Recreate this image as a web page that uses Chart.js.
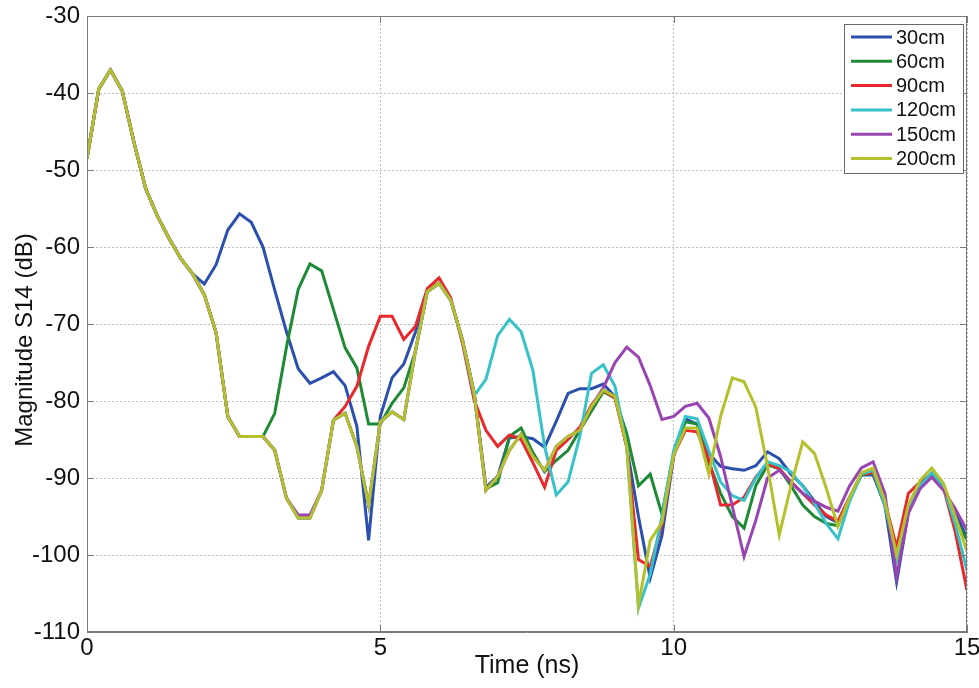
<!DOCTYPE html>
<html>
<head>
<meta charset="utf-8">
<script src="https://cdn.jsdelivr.net/npm/chart.js@4.4.1/dist/chart.umd.min.js"></script>
<style>
  html, body { margin: 0; padding: 0; background: #fff; }
  canvas { display: block; }
</style>
</head>
<body>
<canvas id="grafico" width="979" height="688"></canvas>
<script>
// Time axis (ns), one sample every 0.2 ns
const tiempos = [
  0, 0.2, 0.4, 0.6, 0.8, 1, 1.2, 1.4, 1.6, 1.8,
  2, 2.2, 2.4, 2.6, 2.8, 3, 3.2, 3.4, 3.6, 3.8,
  4, 4.2, 4.4, 4.6, 4.8, 5, 5.2, 5.4, 5.6, 5.8,
  6, 6.2, 6.4, 6.6, 6.8, 7, 7.2, 7.4, 7.6, 7.8,
  8, 8.2, 8.4, 8.6, 8.8, 9, 9.2, 9.4, 9.6, 9.8,
  10, 10.2, 10.4, 10.6, 10.8, 11, 11.2, 11.4, 11.6, 11.8,
  12, 12.2, 12.4, 12.6, 12.8, 13, 13.2, 13.4, 13.6, 13.8,
  14, 14.2, 14.4, 14.6, 14.8, 15
];

const etiquetas = ['30cm', '60cm', '90cm', '120cm', '150cm', '200cm'];
const colores = ['#2b4fad', '#1f8a35', '#e8282b', '#36c2c8', '#9a44b4', '#b4c12c'];

// Magnitude S14 (dB)
const s30 = [
  -48.5, -39.5, -37.0, -39.7, -46.4, -52.4, -56.0, -58.9, -61.5, -63.5,
  -64.8, -62.3, -57.8, -55.7, -56.8, -60.0, -65.6, -71.0, -75.8, -77.7,
  -77.0, -76.2, -78.0, -83.3, -98.1, -82.0, -77.0, -75.2, -71.0, -65.8,
  -64.7, -66.9, -72.1, -79.0, -91.2, -89.8, -84.8, -84.6, -84.9, -86.0,
  -82.6, -79.0, -78.4, -78.4, -77.8, -79.4, -85.9, -95.0, -103.0, -97.5,
  -87.2, -82.3, -83.0, -86.8, -88.5, -88.8, -89.0, -88.4, -86.6, -87.5,
  -89.5, -91.0, -93.0, -95.0, -95.8, -92.5, -89.6, -89.6, -93.5, -103.5,
  -94.5, -91.0, -89.8, -91.3, -94.5, -97.8
];
const s60 = [
  -48.5, -39.5, -37.0, -39.7, -46.4, -52.4, -56.0, -58.9, -61.5, -63.5,
  -66.2, -71.1, -82.0, -84.6, -84.6, -84.6, -81.6, -73.0, -65.5, -62.2,
  -63.1, -68.1, -73.1, -75.7, -83.0, -83.0, -80.3, -78.3, -73.5, -65.8,
  -64.7, -66.9, -72.1, -79.0, -91.4, -90.6, -84.6, -83.5, -86.7, -89.2,
  -87.7, -86.4, -83.8, -81.3, -78.8, -79.6, -84.2, -91.0, -89.5, -94.7,
  -86.8, -82.7, -83.0, -88.0, -92.0, -95.0, -96.5, -91.0, -88.3, -88.8,
  -91.0, -93.5, -95.0, -95.9, -96.2, -92.8, -89.6, -89.4, -93.5, -100.5,
  -93.8, -90.8, -89.6, -91.2, -95.5, -98.0
];
const s90 = [
  -48.5, -39.5, -37.0, -39.7, -46.4, -52.4, -56.0, -58.9, -61.5, -63.5,
  -66.2, -71.1, -82.0, -84.6, -84.6, -84.6, -86.4, -92.6, -95.2, -95.2,
  -91.6, -82.5, -80.7, -78.1, -72.9, -69.0, -69.0, -72.0, -70.3, -65.4,
  -64.0, -66.6, -72.5, -79.9, -83.8, -85.9, -84.4, -85.0, -88.0, -91.2,
  -86.4, -85.0, -83.4, -80.5, -78.6, -79.6, -86.0, -100.6, -101.5, -96.0,
  -87.0, -83.8, -84.0, -87.6, -93.5, -93.5, -92.5, -89.9, -88.1, -88.8,
  -90.5, -92.0, -93.5, -94.8, -95.6, -92.5, -89.5, -89.3, -93.0, -99.0,
  -92.0, -90.5, -89.5, -91.3, -97.0, -104.6
];
const s120 = [
  -48.5, -39.5, -37.0, -39.7, -46.4, -52.4, -56.0, -58.9, -61.5, -63.5,
  -66.2, -71.1, -82.0, -84.6, -84.6, -84.6, -86.4, -92.6, -95.2, -95.2,
  -91.6, -82.5, -81.6, -85.9, -93.5, -82.7, -81.4, -82.4, -73.4, -65.8,
  -64.7, -66.9, -72.1, -79.3, -77.2, -71.5, -69.4, -71.0, -76.0, -85.9,
  -92.2, -90.5, -84.6, -76.4, -75.3, -78.1, -85.9, -106.9, -102.5, -95.0,
  -86.4, -82.0, -82.3, -86.5, -90.5, -92.3, -92.9, -90.0, -87.9, -88.4,
  -89.2, -91.1, -93.3, -95.9, -97.9, -93.0, -89.5, -89.0, -93.5, -100.5,
  -94.0, -91.0, -89.3, -91.2, -96.0, -102.0
];
const s150 = [
  -48.5, -39.5, -37.0, -39.7, -46.4, -52.4, -56.0, -58.9, -61.5, -63.5,
  -66.2, -71.1, -82.0, -84.6, -84.6, -84.6, -86.4, -92.6, -94.8, -94.8,
  -91.6, -82.5, -81.6, -85.9, -93.5, -82.7, -81.4, -82.4, -73.4, -65.8,
  -64.7, -66.9, -72.1, -79.0, -91.6, -89.8, -86.4, -84.3, -87.2, -89.0,
  -85.9, -84.6, -83.8, -80.7, -78.3, -75.0, -73.0, -74.3, -78.0, -82.4,
  -82.0, -80.7, -80.3, -82.2, -87.2, -93.7, -100.2, -95.5, -90.0, -89.0,
  -90.5, -92.0, -93.0, -93.8, -94.3, -91.0, -88.7, -87.9, -92.0, -102.8,
  -94.6, -91.4, -89.9, -91.6, -94.0, -96.8
];
const s200 = [
  -48.5, -39.5, -37.0, -39.7, -46.4, -52.4, -56.0, -58.9, -61.5, -63.5,
  -66.2, -71.1, -82.0, -84.6, -84.6, -84.6, -86.4, -92.6, -95.2, -95.2,
  -91.6, -82.5, -81.6, -85.9, -93.5, -82.7, -81.4, -82.4, -73.4, -65.8,
  -64.7, -66.9, -72.1, -79.0, -91.6, -89.8, -86.4, -84.3, -87.2, -89.0,
  -85.9, -84.6, -83.8, -80.7, -78.6, -79.4, -85.9, -106.5, -98.1, -95.8,
  -87.0, -83.5, -83.5, -89.5, -82.0, -77.0, -77.5, -80.8, -88.5, -97.4,
  -91.0, -85.3, -86.8, -91.3, -96.3, -92.5, -89.3, -88.7, -93.0, -100.0,
  -93.5, -90.3, -88.7, -90.7, -95.0, -99.5
];
const series = [s30, s60, s90, s120, s150, s200];

const ejeX = { min: 0, max: 15, paso: 5 };
const ejeY = { min: -110, max: -30, paso: 10 };
const tituloY = 'Magnitude S14 (dB)';

const fuente = 'Liberation Sans, Arial, Helvetica, sans-serif';

/**
 * Caja del eje estilo MATLAB: marco completo y marcas hacia dentro,
 * y el título del eje Y
 */
const marcoPlugin = {
    id: 'marco',
    afterDraw(chart) {
        const { ctx, chartArea: a, scales } = chart;
        const largo = 7;
        ctx.save();
        ctx.strokeStyle = '#7a7a7a';
        ctx.lineWidth = 1;
        ctx.setLineDash([]);
        ctx.strokeRect(a.left + 0.5, a.top + 0.5, a.right - a.left - 1, a.bottom - a.top - 1);

        ctx.beginPath();
        scales.x.ticks.forEach((t) => {
            const x = Math.round(scales.x.getPixelForValue(t.value)) + 0.5;
            ctx.moveTo(x, a.bottom); ctx.lineTo(x, a.bottom - largo);
            ctx.moveTo(x, a.top); ctx.lineTo(x, a.top + largo);
        });
        scales.y.ticks.forEach((t) => {
            const y = Math.round(scales.y.getPixelForValue(t.value)) + 0.5;
            ctx.moveTo(a.left, y); ctx.lineTo(a.left + largo, y);
            ctx.moveTo(a.right, y); ctx.lineTo(a.right - largo, y);
        });
        ctx.stroke();

        // Título vertical del eje Y
        ctx.translate(25, a.top + (a.bottom - a.top) / 2 + 16);
        ctx.rotate(-Math.PI / 2);
        ctx.font = '24px ' + fuente;
        ctx.fillStyle = '#111';
        ctx.textAlign = 'center';
        ctx.textBaseline = 'middle';
        ctx.fillText(tituloY, 0, 0);
        ctx.restore();
    }
};

/**
 * Leyenda dentro del área del gráfico (esquina superior derecha)
 */
const leyendaPlugin = {
    id: 'leyendaInterna',
    afterDraw(chart) {
        const { ctx, chartArea: a } = chart;
        const ancho = 119, fila = 24.3, alto = 149;
        const x0 = a.right - 4 - ancho;
        const y0 = a.top + 8;
        ctx.save();
        ctx.fillStyle = '#fff';
        ctx.fillRect(x0, y0, ancho, alto);
        ctx.strokeStyle = '#6a6a6a';
        ctx.lineWidth = 1;
        ctx.strokeRect(x0 + 0.5, y0 + 0.5, ancho, alto);
        ctx.font = '20px ' + fuente;
        ctx.textBaseline = 'middle';
        ctx.textAlign = 'left';
        chart.data.datasets.forEach((ds, i) => {
            const y = y0 + 13 + i * fila;
            ctx.strokeStyle = ds.borderColor;
            ctx.lineWidth = 3;
            ctx.beginPath();
            ctx.moveTo(x0 + 7, y);
            ctx.lineTo(x0 + 48, y);
            ctx.stroke();
            ctx.fillStyle = '#111';
            ctx.fillText(ds.label, x0 + 52, y + 1);
        });
        ctx.restore();
    }
};

function inicializarGrafico() {
    const ctx = document.getElementById('grafico');

    const datasets = series.map((valores, i) => ({
        label: etiquetas[i],
        data: valores.map((v, k) => ({ x: tiempos[k], y: v })),
        borderColor: colores[i],
        backgroundColor: colores[i],
        borderWidth: 3,
        pointRadius: 0,
        tension: 0,
        fill: false,
        // MATLAB dibuja la última serie encima
        order: series.length - i
    }));

    new Chart(ctx, {
        type: 'line',
        data: { datasets: datasets },
        options: {
            responsive: false,
            animation: false,
            devicePixelRatio: 1,
            layout: {
                padding: { top: 16, right: 12, left: 0, bottom: 0 }
            },
            plugins: {
                legend: { display: false },
                tooltip: { enabled: false }
            },
            scales: {
                x: {
                    type: 'linear',
                    min: ejeX.min,
                    max: ejeX.max,
                    ticks: {
                        stepSize: ejeX.paso,
                        color: '#111',
                        font: { family: fuente, size: 24, lineHeight: 1.1 },
                        padding: 3,
                        maxRotation: 0
                    },
                    grid: { color: '#bdbdbd', lineWidth: 1, drawTicks: false },
                    border: { display: true, color: '#7a7a7a', dash: [2, 2] },
                    title: {
                        display: true,
                        text: 'Time (ns)',
                        color: '#111',
                        font: { family: fuente, size: 25, lineHeight: 1.2 },
                        padding: { top: 0, bottom: 7 }
                    },
                    afterFit: (scale) => {
                        scale.height = 56;
                        scale.paddingLeft = 0;
                        scale.paddingRight = 0;
                    }
                },
                y: {
                    type: 'linear',
                    min: ejeY.min,
                    max: ejeY.max,
                    ticks: {
                        stepSize: ejeY.paso,
                        color: '#111',
                        font: { family: fuente, size: 24, lineHeight: 1.1 },
                        padding: 7
                    },
                    grid: { color: '#bdbdbd', lineWidth: 1, drawTicks: false },
                    border: { display: true, color: '#7a7a7a', dash: [2, 2] },
                    afterFit: (scale) => {
                        scale.width = 87;
                        scale.paddingTop = 0;
                        scale.paddingBottom = 0;
                    }
                }
            }
        },
        plugins: [marcoPlugin, leyendaPlugin]
    });
}

if (document.readyState === 'loading') {
    document.addEventListener('DOMContentLoaded', inicializarGrafico);
} else {
    inicializarGrafico();
}
</script>
</body>
</html>
